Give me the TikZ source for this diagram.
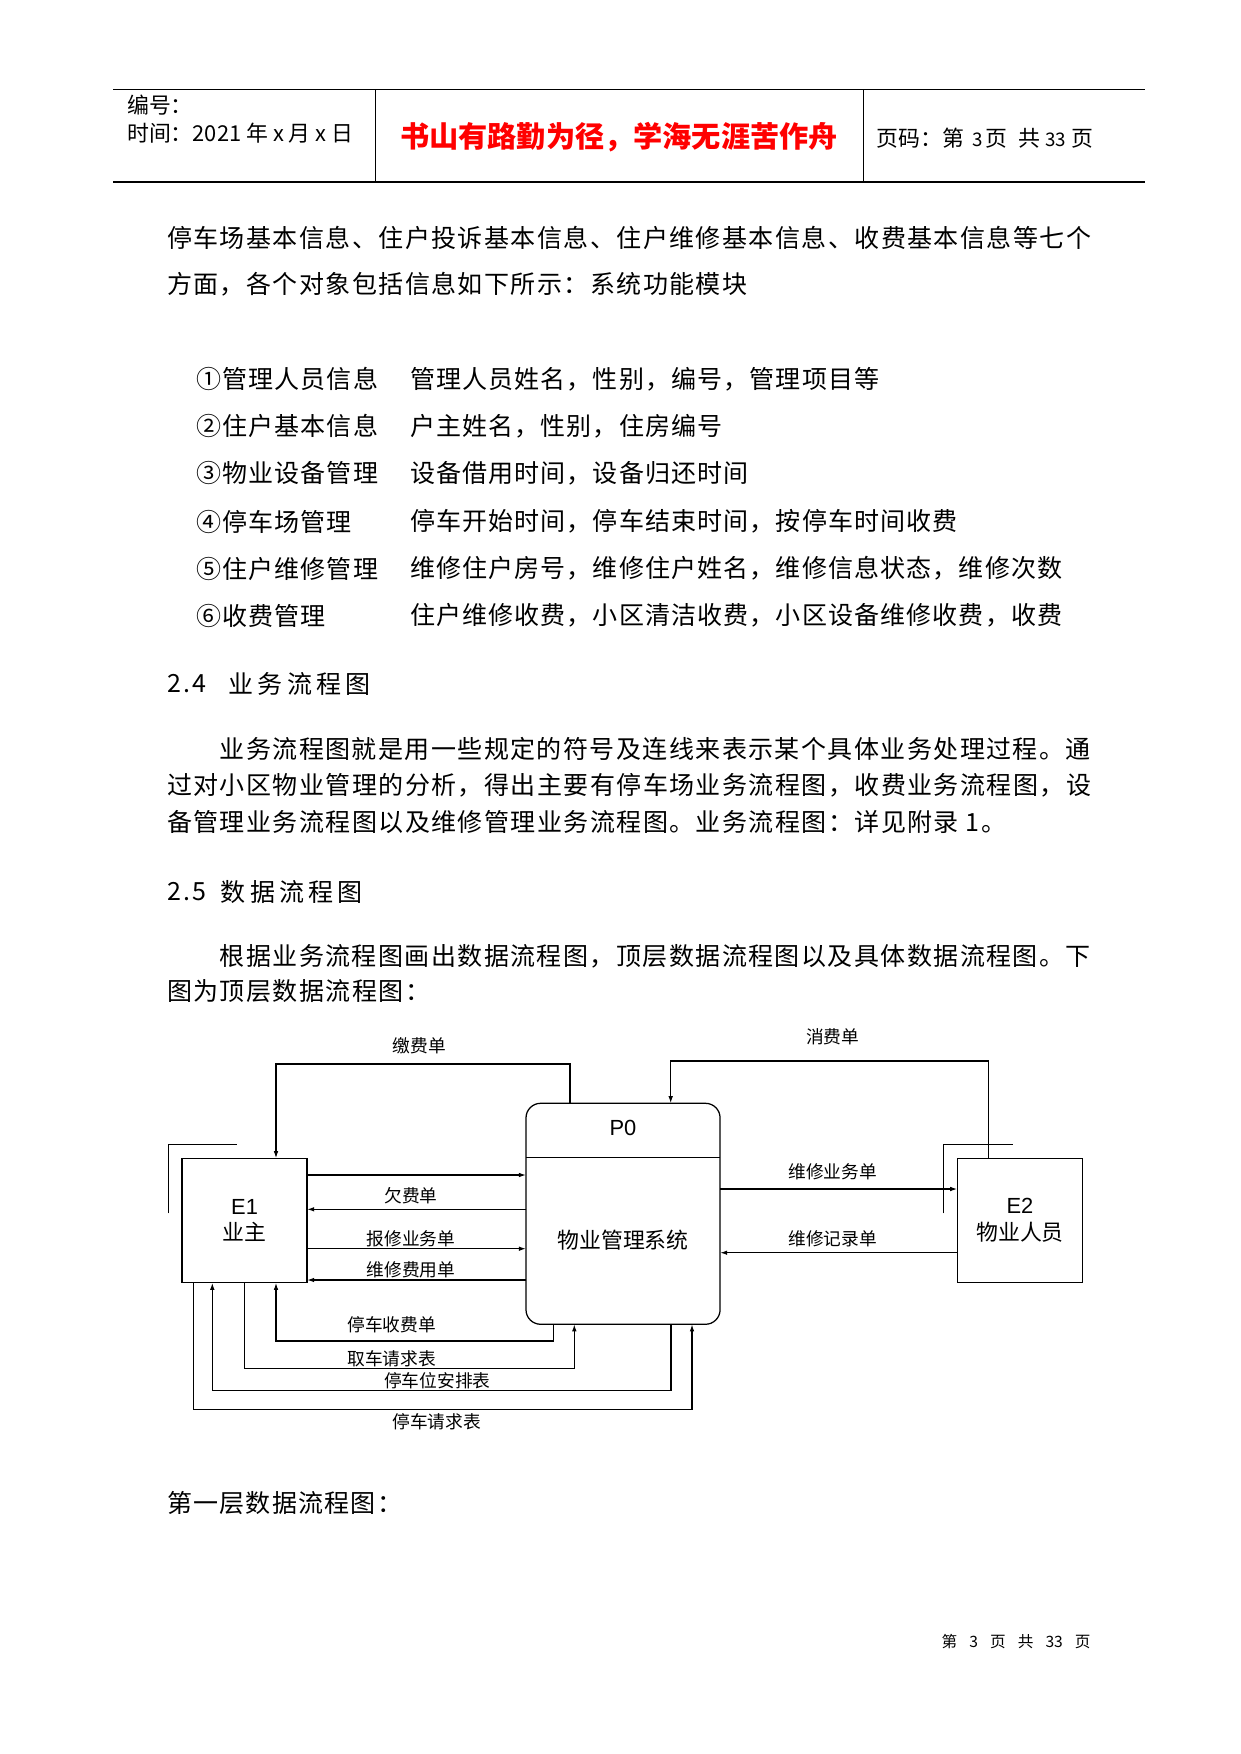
\documentclass[tikz,border=0pt]{standalone}
\usepackage{fontspec}
\setmainfont{Noto Sans CJK SC}
\newfontfamily\latinsans{Liberation Sans}
\usetikzlibrary{arrows.meta}
\definecolor{mottored}{RGB}{255,0,0}
\newcommand{\lsp}[2]{{\addfontfeature{LetterSpace=#1}#2}}
\begin{document}
\begin{tikzpicture}[x=0.4797pt,y=-0.4797pt,
  flow/.style={line width=0.6pt,-{Latex[length=3.4pt,width=2.2pt]}},
  rule/.style={line width=0.55pt},
  bracket/.style={line width=0.6pt},
  txt/.style={anchor=west,inner sep=0pt,font=\fontsize{12pt}{14pt}\selectfont},
  hdr/.style={anchor=west,inner sep=0pt,font=\fontsize{10.5pt}{12pt}\selectfont},
  lbl/.style={inner sep=0pt,font=\fontsize{8.5pt}{10pt}\selectfont},
  entity/.style={draw,line width=0.6pt,minimum width=60pt,minimum height=59.7pt,inner sep=0pt,outer sep=0pt,anchor=north west,align=center,font=\fontsize{10.5pt}{12.8pt}\selectfont},
  process/.style={draw,line width=0.6pt,rounded corners=7pt,minimum width=93.1pt,minimum height=106pt,inner sep=0pt,outer sep=0pt,anchor=north west}
]
\useasboundingbox[fill=white] (0,0) rectangle (1241,1754);

% ---------- header ----------
\draw[rule] (113,89.5) -- (1145,89.5);
\draw[rule] (113,182) -- (1145,182);
\draw[rule] (375.3,89.5) -- (375.3,182);
\draw[rule] (863.3,89.5) -- (863.3,182);
\node[hdr] (hnum) at (126.7,105) {编号：};
\node[hdr] (hdate) at (126.7,133) {时间：2021 年 x 月 x 日};
\node[inner sep=0pt,text=mottored,font=\fontsize{14pt}{16pt}\selectfont\bfseries] (motto) at (619,137) {书山有路勤为径，学海无涯苦作舟};
\node[hdr] (hpage) at (876,138) {页码：第\hspace{4pt}{\fontsize{9pt}{10pt}\selectfont 3}\hspace{1.5pt}页\hspace{5pt}共\hspace{2.5pt}{\fontsize{9pt}{10pt}\selectfont 33}\hspace{2.5pt}页};

% ---------- body text ----------
\node[txt] (l1) at (166.7,238.4) {\lsp{5.7}{停车场基本信息、住户投诉基本信息、住户维修基本信息、收费基本信息等七个}};
\node[txt] (l2) at (166.7,284.3) {\lsp{5.7}{方面，各个对象包括信息如下所示：系统功能模块}};

\node[txt] (i1a) at (195.8,379.4) {\lsp{4.5}{①管理人员信息}};
\node[txt] (i1b) at (409.6,379.4) {\lsp{4.5}{管理人员姓名，性别，编号，管理项目等}};
\node[txt] (i2a) at (195.8,426.4) {\lsp{4.5}{②住户基本信息}};
\node[txt] (i2b) at (409.6,426.4) {\lsp{4.5}{户主姓名，性别，住房编号}};
\node[txt] (i3a) at (195.8,473.4) {\lsp{4.5}{③物业设备管理}};
\node[txt] (i3b) at (409.6,473.4) {\lsp{4.5}{设备借用时间，设备归还时间}};
\node[txt] (i4a) at (195.8,521.5) {\lsp{4.5}{④停车场管理}};
\node[txt] (i4b) at (409.6,521.5) {\lsp{4.5}{停车开始时间，停车结束时间，按停车时间收费}};
\node[txt] (i5a) at (195.8,568.5) {\lsp{4.5}{⑤住户维修管理}};
\node[txt] (i5b) at (409.6,568.5) {\lsp{4.5}{维修住户房号，维修住户姓名，维修信息状态，维修次数}};
\node[txt] (i6a) at (195.8,615.5) {\lsp{4.5}{⑥收费管理}};
\node[txt] (i6b) at (409.6,615.5) {\lsp{4.5}{住户维修收费，小区清洁收费，小区设备维修收费，收费}};

\node[txt] (h24n) at (166.7,683.8) {\lsp{10}{2.4}};
\node[txt] (h24t) at (228.3,683.8) {\lsp{17}{业务流程图}};
\node[txt] (p1a) at (219.3,748.7) {\lsp{5.7}{业务流程图就是用一些规定的符号及连线来表示某个具体业务处理过程。通}};
\node[txt] (p1b) at (166.7,785.6) {\lsp{5.7}{过对小区物业管理的分析，得出主要有停车场业务流程图，收费业务流程图，设}};
\node[txt] (p1c) at (166.7,822.5) {\lsp{5.7}{备管理业务流程图以及维修管理业务流程图。业务流程图：详见附录 1。}};

\node[txt] (h25n) at (166.7,891.9) {\lsp{10}{2.5}};
\node[txt] (h25t) at (220.5,891.9) {\lsp{17}{数据流程图}};
\node[txt] (p2a) at (219.3,956.8) {\lsp{5.7}{根据业务流程图画出数据流程图，顶层数据流程图以及具体数据流程图。下}};
\node[txt] (p2b) at (166.7,991.5) {\lsp{5.7}{图为顶层数据流程图：}};

% ---------- diagram ----------
\node[entity] (E1) at (182,1158.3) {{\latinsans E1}\\业主};
\node[entity,minimum width=60.15pt] (E2) at (957.3,1158.3) {{\latinsans E2}\\物业人员};
\node[process] (P0) at (526,1103.3) {};
\node[inner sep=0pt,font=\latinsans\fontsize{10.5pt}{12pt}\selectfont] (P0id) at (623,1128.3) {P0};
\node[inner sep=0pt,font=\fontsize{10.5pt}{12pt}\selectfont] (P0name) at (623,1240) {物业管理系统};
\draw[line width=0.6pt] (P0.west |- 0,1157.7) -- (P0.east |- 0,1157.7);

% external-entity brackets
\draw[bracket] (168.3,1213.3) |- (237.3,1144.3);
\draw[bracket] (943.3,1213.3) |- (1013.3,1144.3);

% flows between E1 and P0
\draw[flow] (E1.east |- 0,1175) -- (P0.west |- 0,1175);
\draw[flow] (P0.west |- 0,1209.3) -- (E1.east |- 0,1209.3);
\draw[flow] (E1.east |- 0,1248.7) -- (P0.west |- 0,1248.7);
\draw[flow] (P0.west |- 0,1280) -- (E1.east |- 0,1280);
\node[lbl] (f2) at (411,1196) {欠费单};
\node[lbl] (f3) at (411,1238.3) {报修业务单};
\node[lbl] (f4) at (411,1269.3) {维修费用单};

% flows between P0 and E2
\draw[flow] (P0.east |- 0,1189) -- (E2.west |- 0,1189);
\draw[flow] (E2.west |- 0,1252.7) -- (P0.east |- 0,1252.7);
\node[lbl] (f5) at (832.7,1171.7) {维修业务单};
\node[lbl] (f6) at (832.7,1238.3) {维修记录单};

% top loops
\draw[flow] (570,0 |- P0.north) |- (276,1064) -- (276,0 |- E1.north);
\node[lbl] (f1) at (419.3,1046) {缴费单};
\draw[flow] (988.3,0 |- E2.north) |- (670.7,1061) -- (670.7,0 |- P0.north);
\node[lbl] (f7) at (832.7,1036.7) {消费单};

% bottom loops
\draw[flow] (553.3,0 |- P0.south) |- (276,1341) -- (276,0 |- E1.south);
\node[lbl] (f8) at (391.7,1324.3) {停车收费单};
\draw[flow] (244.3,0 |- E1.south) |- (574.3,1368.7) -- (574.3,0 |- P0.south);
\node[lbl] (f9) at (391.7,1358.3) {取车请求表};
\draw[flow] (671,0 |- P0.south) |- (212.3,1390.7) -- (212.3,0 |- E1.south);
\node[lbl] (f10) at (437.3,1380.7) {停车位安排表};
\draw[flow] (193.3,0 |- E1.south) |- (692,1409.3) -- (692,0 |- P0.south);
\node[lbl] (f11) at (436.7,1421.7) {停车请求表};

% ---------- after diagram ----------
\node[txt] (l3) at (166.7,1503) {\lsp{5}{第一层数据流程图：}};
\node[anchor=east,inner sep=0pt,font=\fontsize{7.5pt}{9pt}\selectfont] (foot) at (1091,1641.7) {第\hspace{5.8pt}3\hspace{5.8pt}页\hspace{5.8pt}共\hspace{5.8pt}33\hspace{5.8pt}页};
\end{tikzpicture}
\end{document}
